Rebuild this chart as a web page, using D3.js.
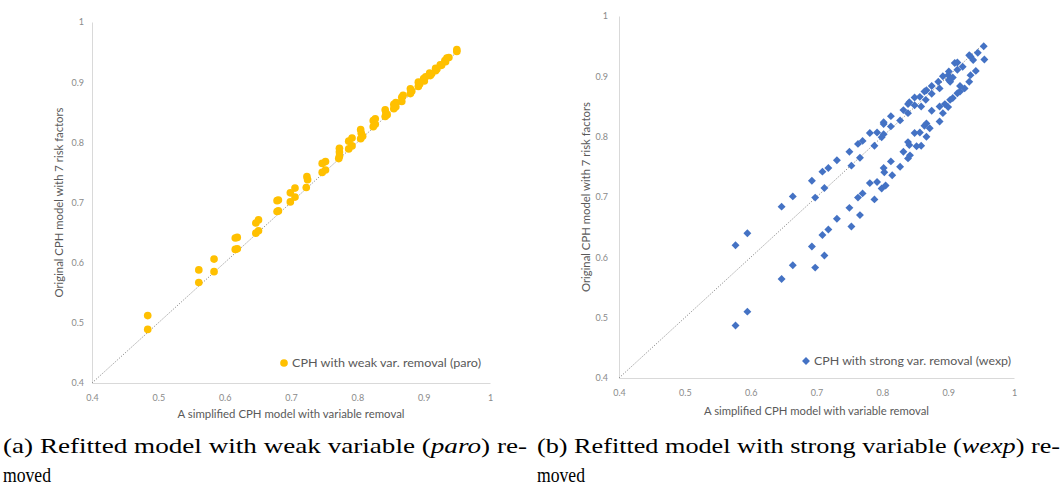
<!DOCTYPE html>
<html>
<head>
<meta charset="utf-8">
<script src="https://cdn.jsdelivr.net/npm/d3@7"></script>
<style>
  html, body { margin: 0; padding: 0; background: #fff; }
  svg { display: block; }
</style>
</head>
<body>
<svg id="fig" width="1063" height="487"></svg>
<script>
// Concordance of the simplified model (x) against the full 7-factor model (y)
const tickValues = [0.4, 0.5, 0.6, 0.7, 0.8, 0.9, 1];
const tickLabels = ["0.4", "0.5", "0.6", "0.7", "0.8", "0.9", "1"];

const xTitle = "A simplified CPH model with variable removal";
const yTitle = "Original CPH model with 7 risk factors";

// (a) weak variable (paro) removed
const paroX = [0.484,0.484,0.561,0.561,0.584,0.584,0.616,0.619,0.616,0.619,
  0.647,0.651,0.647,0.651,0.679,0.681,0.679,0.681,0.699,0.706,0.699,0.706,
  0.724,0.725,0.723,0.747,0.752,0.747,0.752,0.773,0.773,0.772,0.773,
  0.787,0.792,0.787,0.792,0.805,0.806,0.805,0.808,0.824,0.827,0.824,0.827,
  0.842,0.843,0.842,0.845,0.855,0.858,0.855,0.858,0.867,0.869,0.867,
  0.880,0.882,0.880,0.892,0.894,0.892,0.900,0.903,0.901,0.909,0.912,0.910,
  0.918,0.920,0.918,0.925,0.927,0.932,0.935,0.933,0.938,0.950,0.950];
const paroY = [0.512,0.489,0.588,0.567,0.606,0.585,0.641,0.642,0.622,0.623,
  0.666,0.671,0.649,0.653,0.703,0.704,0.685,0.686,0.716,0.724,0.701,0.709,
  0.743,0.738,0.725,0.765,0.768,0.750,0.754,0.790,0.784,0.773,0.777,
  0.802,0.807,0.789,0.794,0.821,0.815,0.806,0.810,0.836,0.839,0.826,0.830,
  0.854,0.849,0.843,0.846,0.863,0.866,0.856,0.859,0.875,0.878,0.868,
  0.889,0.885,0.881,0.900,0.897,0.893,0.906,0.909,0.902,0.915,0.914,0.911,
  0.923,0.922,0.919,0.929,0.928,0.936,0.940,0.934,0.941,0.954,0.951];

// (b) strong variable (wexp) removed
const wexpX = [0.577,0.577,0.595,0.595,0.647,0.647,0.664,0.664,0.693,0.693,
  0.698,0.698,0.709,0.712,0.709,0.712,0.718,0.718,0.731,0.731,0.750,0.750,
  0.753,0.753,0.763,0.763,0.770,0.766,0.766,0.770,0.781,0.781,0.788,0.788,
  0.792,0.792,0.799,0.799,0.802,0.802,0.802,0.802,0.803,0.805,0.813,0.813,
  0.813,0.815,0.827,0.827,0.832,0.832,0.839,0.841,0.839,0.839,0.841,0.839,
  0.842,0.849,0.849,0.852,0.849,0.857,0.857,0.859,0.859,0.864,0.867,0.866,
  0.864,0.867,0.867,0.872,0.875,0.875,0.875,0.885,0.887,0.887,0.887,0.892,
  0.892,0.895,0.900,0.901,0.901,0.903,0.900,0.903,0.907,0.907,0.910,0.914,
  0.914,0.914,0.918,0.918,0.922,0.925,0.932,0.934,0.932,0.934,0.938,0.942,
  0.945,0.954,0.955];
const wexpY = [0.620,0.487,0.640,0.510,0.684,0.564,0.701,0.587,0.727,0.618,
  0.699,0.583,0.742,0.715,0.637,0.603,0.748,0.646,0.761,0.664,0.775,0.682,
  0.752,0.651,0.788,0.699,0.793,0.765,0.670,0.706,0.806,0.723,0.785,0.696,
  0.807,0.725,0.799,0.714,0.821,0.824,0.804,0.748,0.741,0.719,0.834,0.817,
  0.759,0.736,0.827,0.750,0.844,0.775,0.854,0.857,0.839,0.791,0.786,0.764,
  0.769,0.865,0.806,0.784,0.852,0.866,0.807,0.785,0.850,0.875,0.877,0.861,
  0.818,0.822,0.800,0.814,0.884,0.871,0.843,0.891,0.880,0.850,0.825,0.900,
  0.839,0.854,0.902,0.908,0.894,0.891,0.849,0.861,0.898,0.864,0.922,0.923,
  0.911,0.872,0.875,0.884,0.916,0.880,0.935,0.933,0.891,0.902,0.927,0.909,
  0.939,0.950,0.928];

const panels = [
  { xs: paroX, ys: paroY, color: "#FFC000", shape: "circle",
    legend: "CPH with weak var. removal (paro)",
    left: 92, right: 490, top: 22, bottom: 383,
    yLabelX: 84, yTitleX: 59, xLabelY: 398, xTitleY: 414,
    xTitleW: 227, yTitleW: 190,
    legendX: 284, legendY: 363, legendW: 189,
    caption: ["(a) Refitted model with weak variable (", "paro", ") re-"], capX: 3, capW: 524 },
  { xs: wexpX, ys: wexpY, color: "#4472C4", shape: "diamond",
    legend: "CPH with strong var. removal (wexp)",
    left: 619, right: 1014, top: 16, bottom: 378,
    yLabelX: 608, yTitleX: 586, xLabelY: 393, xTitleY: 411,
    xTitleW: 225, yTitleW: 190,
    legendX: 806, legendY: 361, legendW: 197,
    caption: ["(b) Refitted model with strong variable (", "wexp", ") re-"], capX: 537, capW: 523 }
];

const svg = d3.select("#fig");
const labelFont = "Lato, 'Open Sans', 'Liberation Sans', sans-serif";
const serif = "'Times New Roman', Times, serif";

panels.forEach(p => {
  const x = d3.scaleLinear().domain([0.4, 1]).range([p.left, p.right]);
  const y = d3.scaleLinear().domain([0.4, 1]).range([p.bottom, p.top]);
  const g = svg.append("g");

  const xAxis = d3.axisBottom(x).tickValues(tickValues)
    .tickFormat((d, i) => tickLabels[i]).tickSize(0).tickPadding(0);
  const yAxis = d3.axisLeft(y).tickValues(tickValues)
    .tickFormat((d, i) => tickLabels[i]).tickSize(0).tickPadding(0);

  const gx = g.append("g").attr("transform", `translate(0,${p.bottom})`).call(xAxis);
  const gy = g.append("g").attr("transform", `translate(${p.left},0)`).call(yAxis);
  [gx, gy].forEach(a => {
    a.select(".domain").attr("stroke", "#d9d9d9").attr("stroke-width", 1);
    a.selectAll("text").attr("fill", "#8a8a8a").style("font-family", labelFont)
      .style("font-size", "9px");
  });
  gx.selectAll("text").attr("y", p.xLabelY - p.bottom).attr("dy", "0.32em");
  gy.selectAll("text").attr("x", p.yLabelX - p.left).attr("dy", "0.32em");

  // axis titles
  g.append("text")
    .attr("x", (p.left + p.right) / 2).attr("y", p.xTitleY)
    .attr("text-anchor", "middle").attr("dy", "0.32em")
    .attr("textLength", p.xTitleW).attr("lengthAdjust", "spacingAndGlyphs")
    .attr("fill", "#595959").style("font-family", labelFont).style("font-size", "11.5px")
    .text(xTitle);
  g.append("text")
    .attr("transform", `translate(${p.yTitleX},${(p.top + p.bottom) / 2}) rotate(-90)`)
    .attr("text-anchor", "middle").attr("dy", "0.32em")
    .attr("textLength", p.yTitleW).attr("lengthAdjust", "spacingAndGlyphs")
    .attr("fill", "#595959").style("font-family", labelFont).style("font-size", "11.5px")
    .text(yTitle);

  // y = x reference line
  g.append("line")
    .attr("x1", x(0.4)).attr("y1", y(0.4))
    .attr("x2", x(0.955)).attr("y2", y(0.955))
    .attr("stroke", "#7f7f7f").attr("stroke-width", 0.9)
    .attr("stroke-dasharray", "1.2,1.6");

  // points
  const data = p.xs.map((v, i) => [v, p.ys[i]]);
  const sym = p.shape === "circle"
    ? d3.symbol().type(d3.symbolCircle).size(46)
    : d3.symbol().type(d3.symbolDiamond2).size(40);
  g.append("g").selectAll("path").data(data).join("path")
    .attr("transform", d => `translate(${x(d[0])},${y(d[1])})`)
    .attr("d", sym())
    .attr("fill", p.color);

  // legend
  g.append("path")
    .attr("transform", `translate(${p.legendX},${p.legendY})`)
    .attr("d", sym())
    .attr("fill", p.color);
  g.append("text")
    .attr("x", p.legendX + 8).attr("y", p.legendY)
    .attr("dy", "0.35em")
    .attr("textLength", p.legendW).attr("lengthAdjust", "spacingAndGlyphs")
    .attr("fill", "#595959").style("font-family", labelFont).style("font-size", "11.5px")
    .text(p.legend);

  // sub-figure caption
  const cap = svg.append("text")
    .attr("x", p.capX).attr("y", 453)
    .attr("textLength", p.capW).attr("lengthAdjust", "spacingAndGlyphs")
    .attr("fill", "#000").style("font-family", serif).style("font-size", "21px");
  cap.append("tspan").text(p.caption[0]);
  cap.append("tspan").style("font-style", "italic").text(p.caption[1]);
  cap.append("tspan").text(p.caption[2]);
  svg.append("text")
    .attr("x", p.capX).attr("y", 482)
    .attr("textLength", 48).attr("lengthAdjust", "spacingAndGlyphs")
    .attr("fill", "#000").style("font-family", serif).style("font-size", "21px")
    .text("moved");
});
</script>
</body>
</html>
